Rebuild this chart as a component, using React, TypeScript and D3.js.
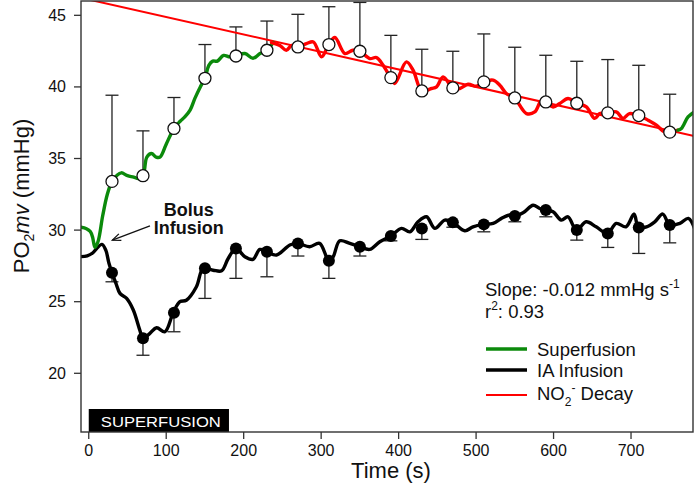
import React from 'react';
import * as d3 from 'd3';

// ---- data ----
const MARK_T = [30, 70, 110, 150, 190, 230, 270, 310, 350, 390, 430, 470, 510, 550, 590, 630, 670, 710, 750];
const SUPER_MEAN = [33.4, 33.8, 37.1, 40.6, 42.16, 42.56, 42.79, 42.96, 42.49, 40.65, 39.72, 39.93, 40.35, 39.23, 38.95, 38.86, 38.19, 38.0, 36.84];
const SUPER_UPPER = [39.42, 36.93, 39.26, 42.96, 44.19, 44.6, 45.07, 45.6, 45.9, 43.6, 42.63, 42.49, 43.7, 42.77, 42.21, 41.79, 41.91, 41.51, 39.49];
const IA_MEAN = [27.02, 22.44, 24.23, 27.33, 28.72, 28.49, 29.07, 27.86, 28.84, 29.58, 30.12, 30.54, 30.4, 30.98, 31.4, 30.0, 29.77, 30.19, 30.35];
const IA_LOWER = [26.39, 21.26, 22.9, 25.23, 26.63, 26.74, 28.19, 26.63, 28.19, 29.25, 29.35, 30.2, 29.88, 30.58, 30.93, 29.3, 28.79, 28.37, 29.11];

const GREEN_START: [number, number][] = [
  [-10, 30.2], [-3, 30.1], [2, 29.9], [5, 29.5], [8, 28.8], [12, 29.2], [18, 31.0], [24, 32.5], [30, 33.4],
  [36, 33.8], [42, 34.0], [50, 33.8], [58, 33.7], [64, 33.6], [70, 33.8], [75, 35.1], [81, 35.35], [87, 35.1],
  [92, 35.1], [100, 36.0], [110, 37.1], [118, 37.6], [124, 37.9], [131, 38.4], [137, 39.2], [144, 40.0],
  [150, 40.6], [155, 41.5], [160, 41.8], [166, 41.8], [174, 42.2], [182, 42.1], [190, 42.16], [201.5, 42.33],
  [212, 42.0], [221, 42.33], [230, 42.56], [238, 43.1],
];
const GREEN_END: [number, number][] = [
  [760.6, 36.98], [765, 37.1], [773.6, 37.9], [782, 38.26],
];
const RED_TRACE: [number, number][] = [
  [236, 43.1], [246.7, 42.9], [255, 42.56], [262, 42.9], [270, 42.79], [281, 43.02], [290, 43.14], [300.5, 42.1],
  [310, 42.96], [317.7, 43.45], [330.6, 42.33], [341, 42.56], [350, 42.49], [362.8, 41.98], [371.5, 42.05],
  [380, 41.51], [389.5, 40.65], [395, 40.24], [410, 41.75], [418.7, 41.17], [430, 39.72], [442.4, 39.89],
  [449, 40.0], [457.4, 40.7], [470, 39.93], [479, 39.89], [489.7, 40.19], [500.5, 40.05], [510, 40.35],
  [522, 40.47], [530.6, 40.12], [539, 39.54], [549.5, 39.23], [565, 38.14], [575.7, 38.25], [584.4, 39.07],
  [590, 38.95], [599.4, 38.6], [608, 38.84], [618.7, 39.19], [630, 38.86], [642.4, 38.6], [653, 37.8],
  [659.6, 38.14], [670, 38.19], [681, 38.26], [689.6, 37.8], [698, 38.14], [710, 38.0], [722, 37.68],
  [732.8, 37.33], [743, 36.86], [750, 36.84], [760.6, 36.98],
];
const BLACK_TRACE: [number, number][] = [
  [-10, 28.15], [-2, 28.2], [5, 28.4], [10, 28.7], [17, 29.0], [22, 28.6], [26, 27.7], [30, 27.02], [35, 26.3],
  [40.3, 25.58], [48.9, 25.23], [57.5, 24.42], [66, 23.0], [70, 22.44], [79, 22.79], [87.6, 23.18], [98.3, 22.9],
  [109, 24.23], [117.7, 25.0], [126, 25.1], [139, 26.04], [147.8, 27.33], [160.6, 27.2], [171.5, 27.16],
  [180, 28.02], [190, 28.72], [201.5, 28.14], [212, 27.96], [220.9, 28.65], [229.5, 28.49], [242.5, 28.26],
  [259.6, 28.96], [269.5, 29.07], [285, 28.84], [298, 29.07], [310, 27.86], [315.5, 28.14], [324, 29.25],
  [337, 29.07], [350, 28.84], [362.6, 28.65], [375.7, 29.19], [390, 29.58], [403.7, 30.12], [414.5, 29.88],
  [425, 30.58], [436, 30.93], [446.7, 30.12], [459.6, 30.7], [470, 30.54], [485.4, 29.95], [496, 30.23],
  [509, 30.4], [522, 30.47], [532.8, 30.82], [543.5, 31.05], [549, 30.98], [560.6, 31.21], [573.6, 31.74],
  [582, 31.51], [590, 31.4], [599.4, 31.28], [610, 30.7], [618.7, 30.93], [629.5, 30.0], [642, 30.58],
  [655, 30.23], [669.5, 29.77], [681, 30.47], [693.5, 30.23], [704, 31.12], [709.5, 30.19], [720, 30.23],
  [730.6, 30.58], [741, 31.12], [750, 30.35], [763, 30.47], [774, 30.82], [782, 30.12],
];
const REG_T = [0, 780];
const REG_V = [46.1, 36.58];

const X_TICKS = [0, 100, 200, 300, 400, 500, 600, 700];
const Y_TICKS = [20, 25, 30, 35, 40, 45];
const SUPERFUSION_PERIOD = [0, 181];
const ARROW_FROM = [79, 30.3];
const ARROW_TO = [30.5, 29.3];
const ANNOT_POS = [129, 30.98, 29.7];

const FONT = '"Liberation Sans", Arial, Helvetica, sans-serif';
const GREEN = '#0b8a0b';
const RED = '#ff0000';

export default function App() {
  const x = d3.scaleLinear().domain([-10, 780]).range([81, 693]);
  const y = d3.scaleLinear().domain([15.9, 46]).range([432, 1]);
  const line = d3.line<[number, number]>().x(d => x(d[0])).y(d => y(d[1])).curve(d3.curveCatmullRom.alpha(0.5));
  const [x0, x1] = x.range();
  const [yb, yt] = y.range();
  const cap = 6.5;

  const ax0 = x(ARROW_FROM[0]), ay0 = y(ARROW_FROM[1]);
  const ax1 = x(ARROW_TO[0]), ay1 = y(ARROW_TO[1]);
  const ang = Math.atan2(ay1 - ay0, ax1 - ax0);
  const hl = 9, ha = 0.4;
  const head = `M${ax1 - hl * Math.cos(ang - ha)},${ay1 - hl * Math.sin(ang - ha)}L${ax1},${ay1}L${ax1 - hl * Math.cos(ang + ha)},${ay1 - hl * Math.sin(ang + ha)}`;

  const legendItems = [
    { label: 'Superfusion', color: GREEN, w: 3.4, y: 349 },
    { label: 'IA Infusion', color: '#000', w: 3.4, y: 370 },
    { label: 'NO2', color: RED, w: 2, y: 395 },
  ];

  return (
    <svg width={696} height={491} style={{ position: 'absolute', left: 0, top: 0, background: '#fff' }} fontFamily={FONT}>
      <defs>
        <clipPath id="plotclip">
          <rect x={x0} y={yt} width={x1 - x0} height={yb - yt} />
        </clipPath>
      </defs>
      <rect x={0} y={0} width={696} height={491} fill="#fff" />

      {/* superfusion bar */}
      <rect x={x(SUPERFUSION_PERIOD[0])} y={409} width={x(SUPERFUSION_PERIOD[1]) - x(SUPERFUSION_PERIOD[0])} height={yb - 409} fill="#000" />
      <text x={(x(SUPERFUSION_PERIOD[0]) + x(SUPERFUSION_PERIOD[1])) / 2 + 2} y={426.5} fill="#fff" fontSize={15.5} textAnchor="middle" textLength={120} lengthAdjust="spacingAndGlyphs">SUPERFUSION</text>

      {/* error bars */}
      <g stroke="#222" strokeWidth={1.3}>
        {MARK_T.map((t, i) => (
          <g key={'su' + i}>
            <line x1={x(t)} x2={x(t)} y1={y(SUPER_MEAN[i])} y2={y(SUPER_UPPER[i])} />
            <line x1={x(t) - cap} x2={x(t) + cap} y1={y(SUPER_UPPER[i])} y2={y(SUPER_UPPER[i])} />
          </g>
        ))}
        {MARK_T.map((t, i) => (
          <g key={'ia' + i}>
            <line x1={x(t)} x2={x(t)} y1={y(IA_MEAN[i])} y2={y(IA_LOWER[i])} />
            <line x1={x(t) - cap} x2={x(t) + cap} y1={y(IA_LOWER[i])} y2={y(IA_LOWER[i])} />
          </g>
        ))}
      </g>

      {/* traces */}
      <g clipPath="url(#plotclip)" fill="none" strokeLinejoin="round" strokeLinecap="round">
        <path d={line(REG_T.map((t, i) => [t, REG_V[i]] as [number, number])) || ''} stroke={RED} strokeWidth={2} />
        <path d={line(BLACK_TRACE) || ''} stroke="#000" strokeWidth={3.4} />
        <path d={line(GREEN_START) || ''} stroke={GREEN} strokeWidth={3.4} />
        <path d={line(RED_TRACE) || ''} stroke={RED} strokeWidth={3.4} />
        <path d={line(GREEN_END) || ''} stroke={GREEN} strokeWidth={3.4} />
      </g>

      {/* markers */}
      {MARK_T.map((t, i) => (
        <circle key={'ic' + i} cx={x(t)} cy={y(IA_MEAN[i])} r={6} fill="#000" />
      ))}
      {MARK_T.map((t, i) => (
        <circle key={'sc' + i} cx={x(t)} cy={y(SUPER_MEAN[i])} r={6} fill="#fff" stroke="#111" strokeWidth={1.3} />
      ))}

      {/* frame */}
      <rect x={x0} y={yt} width={x1 - x0} height={yb - yt} fill="none" stroke="#333" strokeWidth={1.4} />

      {/* y axis */}
      {Y_TICKS.map(v => (
        <g key={'yt' + v}>
          <line x1={x0 - 7} x2={x0} y1={y(v)} y2={y(v)} stroke="#333" strokeWidth={1.3} />
          <text x={x0 - 15} y={y(v) + 5.5} fontSize={16} textAnchor="end" fill="#111">{v}</text>
        </g>
      ))}
      {/* x axis */}
      {X_TICKS.map(v => (
        <g key={'xt' + v}>
          <line x1={x(v)} x2={x(v)} y1={yb} y2={yb + 7} stroke="#333" strokeWidth={1.3} />
          <text x={x(v)} y={yb + 24} fontSize={16} textAnchor="middle" fill="#111">{v}</text>
        </g>
      ))}

      {/* axis titles */}
      <text x={391} y={478} fontSize={22} textAnchor="middle" fill="#111">Time (s)</text>
      <text transform="translate(29,196) rotate(-90)" fontSize={22} textAnchor="middle" fill="#111">
        PO<tspan fontSize={14} dy={5}>2</tspan><tspan dy={-5} fontStyle="italic">mv</tspan> (mmHg)
      </text>

      {/* annotation */}
      <text x={x(ANNOT_POS[0])} y={y(ANNOT_POS[1])} fontSize={18} fontWeight="bold" textAnchor="middle" fill="#111">Bolus</text>
      <text x={x(ANNOT_POS[0])} y={y(ANNOT_POS[2])} fontSize={18} fontWeight="bold" textAnchor="middle" fill="#111">Infusion</text>
      <line x1={ax0} y1={ay0} x2={ax1} y2={ay1} stroke="#111" strokeWidth={1.3} />
      <path d={head} fill="none" stroke="#111" strokeWidth={1.3} />

      {/* stats */}
      <text x={485} y={296} fontSize={18.5} fill="#111">
        Slope: -0.012 mmHg s<tspan fontSize={12} dy={-8}>-1</tspan>
      </text>
      <text x={485} y={318} fontSize={18.5} fill="#111">
        r<tspan fontSize={12} dy={-8}>2</tspan><tspan dy={8}>: 0.93</tspan>
      </text>

      {/* legend */}
      {legendItems.map((it, i) => (
        <g key={'lg' + i}>
          <line x1={486} x2={527} y1={it.y} y2={it.y} stroke={it.color} strokeWidth={it.w} />
          {i < 2 ? (
            <text x={537} y={it.y + 6.5} fontSize={18.5} fill="#111">{it.label}</text>
          ) : (
            <text x={537} y={it.y + 4.5} fontSize={18.5} fill="#111">
              NO<tspan fontSize={12} dy={6}>2</tspan><tspan fontSize={12} dy={-14}>-</tspan><tspan dy={8}> Decay</tspan>
            </text>
          )}
        </g>
      ))}
    </svg>
  );
}
